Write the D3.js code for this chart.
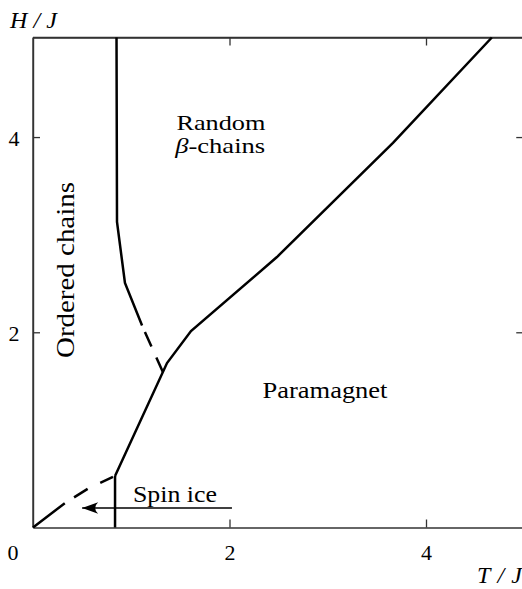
<!DOCTYPE html>
<html><head><meta charset="utf-8">
<script src="https://cdn.jsdelivr.net/npm/d3@7"></script>
<style>body{margin:0;background:#fff} svg{display:block}</style>
</head><body><svg id="c" width="522" height="589"></svg>
<script>
// ---- data ----
const tTicks = [2, 4];
const hTicks = [2, 4];
const boundaryDashedT = [0, 0.326, 0.570, 0.835];
const boundaryDashedH = [0, 0.251, 0.405, 0.528];
const boundaryT = [0.835, 1.364, 1.608, 2.483, 3.664, 4.67];
const boundaryH = [0.528, 1.685, 2.013, 2.771, 3.94, 5.02];
const chainT = [0.850, 0.855, 0.936, 1.11];
const chainH = [5.02, 3.13, 2.505, 2.07];
const chainDashT = [1.139, 1.323];
const chainDashH = [2.004, 1.59];
const spinIceT = [0.835, 0.835];
const spinIceH = [0, 0.528];
const arrowT = [2.025, 0.5];
const arrowH = [0.2, 0.2];

// ---- layout ----
const svg = d3.select("#c");
const x = d3.scaleLinear().domain([0, 5]).range([33, 524.25]);
const y = d3.scaleLinear().domain([0, 5.02]).range([527.5, 37.5]);
const FONT = "'Times New Roman', Times, Tinos, 'Liberation Serif', 'DejaVu Serif', 'Noto Serif', FreeSerif, serif";
const axisColor = "#333";

const zip = (a, b) => a.map((v, i) => [v, b[i]]);
const line = d3.line().x(d => x(d[0])).y(d => y(d[1]));

// frame
const fr = svg.append("g").attr("fill", "none").attr("stroke", axisColor).attr("stroke-width", 1.4);
fr.append("line").attr("x1", x(0)).attr("x2", x(0)).attr("y1", y(0)).attr("y2", y(5.02));
fr.append("line").attr("x1", x(0)).attr("x2", x(5)).attr("y1", y(5.02)).attr("y2", y(5.02));
fr.append("line").attr("x1", x(5)).attr("x2", x(5)).attr("y1", y(0)).attr("y2", y(5.02));

// axes
const gx = svg.append("g").attr("transform", `translate(0,${y(0)})`)
  .call(d3.axisBottom(x).tickValues(tTicks).tickSizeInner(-8).tickSizeOuter(0).tickFormat(d3.format("d")));
const gxTop = svg.append("g").attr("transform", `translate(0,${y(5.02)})`)
  .call(d3.axisTop(x).tickValues(tTicks).tickSizeInner(-8).tickSizeOuter(0).tickFormat(""));
const gy = svg.append("g").attr("transform", `translate(${x(0)},0)`)
  .call(d3.axisLeft(y).tickValues(hTicks).tickSizeInner(-7).tickSizeOuter(0).tickFormat(d3.format("d")));
const gyR = svg.append("g").attr("transform", `translate(${x(5)},0)`)
  .call(d3.axisRight(y).tickValues(hTicks).tickSizeInner(-8).tickSizeOuter(0).tickFormat(""));
[gx, gxTop, gy, gyR].forEach(g => {
  g.attr("font-family", FONT);
  g.select(".domain").attr("stroke", axisColor).attr("stroke-width", 1.4);
  g.selectAll(".tick line").attr("stroke", axisColor).attr("stroke-width", 1.3);
});
gx.selectAll("text").style("font-family", FONT).attr("font-size", 22).attr("fill", "#000")
  .attr("y", 32).attr("dy", 0);
gy.selectAll("text").style("font-family", FONT).attr("font-size", 22).attr("fill", "#000")
  .attr("text-anchor", "middle").attr("x", 14 - x(0)).attr("dy", 8);
// origin label
svg.append("text").attr("x", 13).attr("y", y(0) + 32).attr("text-anchor", "middle")
  .style("font-family", FONT).attr("font-size", 22).text("0");

// axis titles
svg.append("text").attr("x", 10).attr("y", 28).style("font-family", FONT)
  .attr("font-size", 24).attr("font-style", "italic").attr("textLength", 47).attr("lengthAdjust", "spacing")
  .text("H/J");
svg.append("text").attr("x", 477).attr("y", 583).style("font-family", FONT)
  .attr("font-size", 24).attr("font-style", "italic").attr("textLength", 45).attr("lengthAdjust", "spacing")
  .text("T/J");

// curves
const curves = svg.append("g").attr("fill", "none").attr("stroke", "#000").attr("stroke-width", 2.5);
curves.append("path").attr("d", line(zip(boundaryDashedT, boundaryDashedH))).attr("stroke-dasharray", "40,11,16,14,14,20");
curves.append("path").attr("d", line(zip(boundaryT, boundaryH)));
curves.append("path").attr("d", line(zip(chainT, chainH)));
curves.append("path").attr("d", line(zip(chainDashT, chainDashH))).attr("stroke-dasharray", "16,12,30");
curves.append("path").attr("d", line(zip(spinIceT, spinIceH)));

// arrow
svg.append("path").attr("d", line(zip(arrowT, arrowH))).attr("stroke", "#000").attr("stroke-width", 1.4).attr("fill", "none");
const tipX = x(arrowT[1]), tipY = y(arrowH[1]);
svg.append("path").attr("transform", `translate(${tipX},${tipY})`)
  .attr("d", "M0,0 L16,-5.8 Q10,0 16,5.8 Z").attr("fill", "#000");

// region labels
const lab = (xv, yv, size, opts = {}) => {
  const el = svg.append("text").style("font-family", FONT).attr("font-size", size)
    .attr("text-anchor", "middle").attr("fill", "#000");
  if (opts.rotate) el.attr("transform", `translate(${x(xv)},${y(yv)}) rotate(-90)`);
  else el.attr("x", x(xv)).attr("y", y(yv));
  if (opts.len) el.attr("textLength", opts.len).attr("lengthAdjust", "spacingAndGlyphs");
  return el;
};
lab(1.913, 4.073, 21, {len: 89}).text("Random");
const bc = lab(1.905, 3.837, 21, {len: 90});
bc.append("tspan").attr("font-style", "italic").text("β");
bc.append("tspan").text("-chains");
lab(2.972, 1.327, 24, {len: 125}).text("Paramagnet");
lab(1.445, 0.266, 24, {len: 84}).text("Spin ice");
lab(0.417, 2.638, 25, {rotate: true, len: 176}).text("Ordered chains");
</script>
</body></html>
